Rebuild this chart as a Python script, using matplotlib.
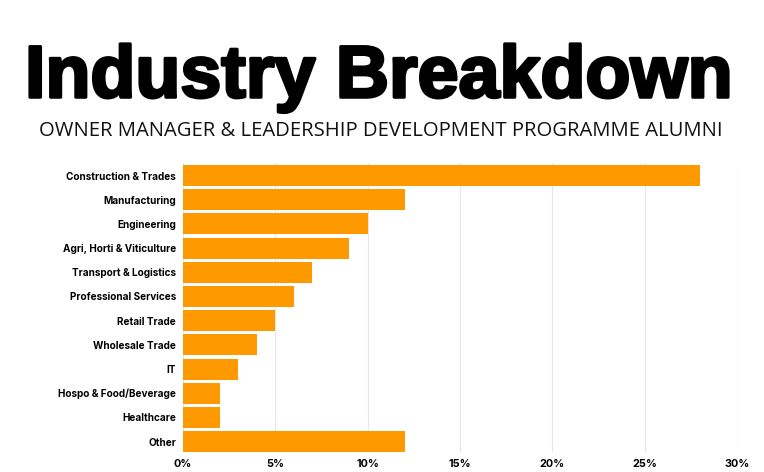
import numpy as np
import matplotlib.pyplot as plt
import matplotlib.patheffects as pe

# data
industries = ['Construction & Trades', 'Manufacturing', 'Engineering',
              'Agri, Horti & Viticulture', 'Transport & Logistics',
              'Professional Services', 'Retail Trade', 'Wholesale Trade',
              'IT', 'Hospo & Food/Beverage', 'Healthcare', 'Other']
shares = [28, 12, 10, 9, 7, 6, 5, 4, 3, 2, 2, 12]
tick_vals = [0, 5, 10, 15, 20, 25, 30]
tick_labels = ['0%', '5%', '10%', '15%', '20%', '25%', '30%']

fig = plt.figure(figsize=(7.64, 4.72), dpi=100)
ax = fig.add_axes([0.2395, 0.0424, 0.7252, 0.6123])

y = np.arange(len(industries))
ax.barh(y, shares, height=0.87, color='#ff9900', zorder=3)

ax.set_xlim(0, 30)
ax.set_ylim(len(industries) - 0.57, -0.52)
ax.set_xticks(tick_vals)
ax.set_xticklabels(tick_labels, fontfamily='Inter', fontweight='bold', fontsize=7.8)
ax.set_yticks(y)
ax.set_yticklabels(industries, fontfamily='Inter', fontweight='bold', fontsize=7.2)
ax.tick_params(length=0, pad=5)
ax.tick_params(axis='x', pad=5)
ax.grid(axis='x', color='#e6e6e6', linewidth=0.8, zorder=0)
for s in ax.spines.values():
    s.set_visible(False)

fig.text(0.496, 0.794, 'Industry Breakdown', ha='center', va='baseline',
         fontfamily='Liberation Sans', fontweight='bold', fontsize=53,
         color='black',
         path_effects=[pe.withStroke(linewidth=2.2, foreground='black')])
fig.text(0.498, 0.712, 'OWNER MANAGER & LEADERSHIP DEVELOPMENT PROGRAMME ALUMNI',
         ha='center', va='baseline', fontfamily='Open Sans', fontsize=14.6,
         color='#111111')

fig.savefig('out.png', dpi=100)
